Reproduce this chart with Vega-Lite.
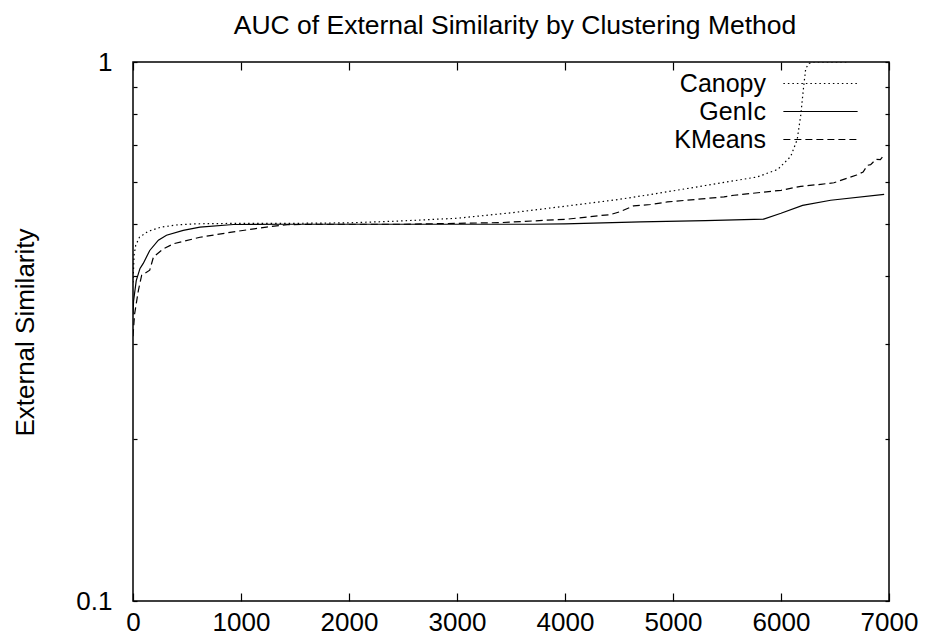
{
  "$schema": "https://vega.github.io/schema/vega-lite/v6.json",
  "width": 756,
  "height": 539,
  "autosize": {"type": "none"},
  "padding": {"left": 133, "top": 62, "right": 36, "bottom": 37},
  "background": "white",
  "title": {
    "text": "AUC of External Similarity by Clustering Method",
    "font": "Liberation Sans",
    "fontSize": 26.5,
    "fontWeight": "normal",
    "color": "black",
    "anchor": "middle",
    "frame": "group",
    "baseline": "alphabetic",
    "offset": -11,
    "dx": 4
  },
  "config": {
    "view": {"stroke": "black", "strokeWidth": 1.5},
    "axis": {
      "grid": false,
      "domain": false,
      "labelFont": "Liberation Sans",
      "labelFontSize": 26,
      "labelColor": "black",
      "tickColor": "black",
      "tickWidth": 1.2,
      "labelFlush": false,
      "labelOverlap": false,
      "titleFont": "Liberation Sans",
      "titleFontSize": 26,
      "titleFontWeight": "normal",
      "titleColor": "black"
    }
  },
  "data": {
    "values": [
      {"series": "Canopy", "x": 0, "y": 0.39},
      {"series": "Canopy", "x": 10, "y": 0.438},
      {"series": "Canopy", "x": 25, "y": 0.457},
      {"series": "Canopy", "x": 60, "y": 0.473},
      {"series": "Canopy", "x": 140, "y": 0.485},
      {"series": "Canopy", "x": 260, "y": 0.494},
      {"series": "Canopy", "x": 420, "y": 0.499},
      {"series": "Canopy", "x": 600, "y": 0.501},
      {"series": "Canopy", "x": 1000, "y": 0.502},
      {"series": "Canopy", "x": 1500, "y": 0.502},
      {"series": "Canopy", "x": 2000, "y": 0.503},
      {"series": "Canopy", "x": 2475, "y": 0.507},
      {"series": "Canopy", "x": 3000, "y": 0.513},
      {"series": "Canopy", "x": 3500, "y": 0.525},
      {"series": "Canopy", "x": 4000, "y": 0.54},
      {"series": "Canopy", "x": 4500, "y": 0.556},
      {"series": "Canopy", "x": 4800, "y": 0.568},
      {"series": "Canopy", "x": 5300, "y": 0.59},
      {"series": "Canopy", "x": 5780, "y": 0.612},
      {"series": "Canopy", "x": 5970, "y": 0.632},
      {"series": "Canopy", "x": 6090, "y": 0.668},
      {"series": "Canopy", "x": 6150, "y": 0.718},
      {"series": "Canopy", "x": 6183, "y": 0.797},
      {"series": "Canopy", "x": 6208, "y": 0.894},
      {"series": "Canopy", "x": 6229, "y": 0.973},
      {"series": "Canopy", "x": 6260, "y": 0.994},
      {"series": "Canopy", "x": 6300, "y": 1.0},
      {"series": "Canopy", "x": 6620, "y": 1.0},
      {"series": "GenIc", "x": 0, "y": 0.34},
      {"series": "GenIc", "x": 5, "y": 0.36},
      {"series": "GenIc", "x": 30, "y": 0.393},
      {"series": "GenIc", "x": 65, "y": 0.414},
      {"series": "GenIc", "x": 95, "y": 0.423},
      {"series": "GenIc", "x": 155, "y": 0.447},
      {"series": "GenIc", "x": 235, "y": 0.467},
      {"series": "GenIc", "x": 310, "y": 0.477},
      {"series": "GenIc", "x": 465, "y": 0.487},
      {"series": "GenIc", "x": 620, "y": 0.494},
      {"series": "GenIc", "x": 930, "y": 0.4995},
      {"series": "GenIc", "x": 1400, "y": 0.5},
      {"series": "GenIc", "x": 2000, "y": 0.5},
      {"series": "GenIc", "x": 3000, "y": 0.5},
      {"series": "GenIc", "x": 3700, "y": 0.5},
      {"series": "GenIc", "x": 4000, "y": 0.501},
      {"series": "GenIc", "x": 4700, "y": 0.505},
      {"series": "GenIc", "x": 5300, "y": 0.508},
      {"series": "GenIc", "x": 5840, "y": 0.511},
      {"series": "GenIc", "x": 6000, "y": 0.524},
      {"series": "GenIc", "x": 6200, "y": 0.542},
      {"series": "GenIc", "x": 6460, "y": 0.554},
      {"series": "GenIc", "x": 6955, "y": 0.568},
      {"series": "KMeans", "x": 0, "y": 0.31},
      {"series": "KMeans", "x": 15, "y": 0.341},
      {"series": "KMeans", "x": 50, "y": 0.377},
      {"series": "KMeans", "x": 80, "y": 0.402},
      {"series": "KMeans", "x": 155, "y": 0.411},
      {"series": "KMeans", "x": 190, "y": 0.435},
      {"series": "KMeans", "x": 280, "y": 0.45},
      {"series": "KMeans", "x": 375, "y": 0.46},
      {"series": "KMeans", "x": 620, "y": 0.473},
      {"series": "KMeans", "x": 930, "y": 0.484},
      {"series": "KMeans", "x": 1235, "y": 0.494},
      {"series": "KMeans", "x": 1430, "y": 0.499},
      {"series": "KMeans", "x": 1700, "y": 0.5},
      {"series": "KMeans", "x": 2500, "y": 0.5},
      {"series": "KMeans", "x": 3400, "y": 0.5035},
      {"series": "KMeans", "x": 4020, "y": 0.511},
      {"series": "KMeans", "x": 4330, "y": 0.519},
      {"series": "KMeans", "x": 4420, "y": 0.521},
      {"series": "KMeans", "x": 4515, "y": 0.528},
      {"series": "KMeans", "x": 4636, "y": 0.541},
      {"series": "KMeans", "x": 4793, "y": 0.544},
      {"series": "KMeans", "x": 4948, "y": 0.55},
      {"series": "KMeans", "x": 5472, "y": 0.562},
      {"series": "KMeans", "x": 5565, "y": 0.566},
      {"series": "KMeans", "x": 6000, "y": 0.578},
      {"series": "KMeans", "x": 6183, "y": 0.588},
      {"series": "KMeans", "x": 6368, "y": 0.593},
      {"series": "KMeans", "x": 6490, "y": 0.597},
      {"series": "KMeans", "x": 6700, "y": 0.617},
      {"series": "KMeans", "x": 6760, "y": 0.625},
      {"series": "KMeans", "x": 6800, "y": 0.643},
      {"series": "KMeans", "x": 6830, "y": 0.645},
      {"series": "KMeans", "x": 6880, "y": 0.66},
      {"series": "KMeans", "x": 6920, "y": 0.659},
      {"series": "KMeans", "x": 6955, "y": 0.672}
    ]
  },
  "layer": [
    {
      "mark": {"type": "line", "color": "black", "strokeWidth": 1.2, "clip": true},
      "encoding": {
        "x": {
          "field": "x", "type": "quantitative",
          "scale": {"domain": [0, 7000], "nice": false, "zero": false},
          "axis": {
            "orient": "bottom", "title": null, "format": "d",
            "values": [0, 1000, 2000, 3000, 4000, 5000, 6000, 7000],
            "tickSize": -8, "labelPadding": 16
          }
        },
        "y": {
          "field": "y", "type": "quantitative",
          "scale": {"type": "log", "domain": [0.1, 1], "nice": false},
          "axis": {
            "orient": "left",
            "title": "External Similarity",
            "titleX": -100, "titleY": 270, "titleAngle": -90,
            "titleAlign": "center", "titleBaseline": "alphabetic",
            "values": [0.1, 0.2, 0.3, 0.4, 0.5, 0.6, 0.7, 0.8, 0.9, 1],
            "labelExpr": "datum.value == 1 ? '1' : (datum.value == 0.1 ? '0.1' : '')",
            "tickSize": -4, "labelPadding": 25, "labelBaseline": "middle"
          }
        },
        "strokeDash": {
          "field": "series", "type": "nominal",
          "scale": {"domain": ["Canopy", "GenIc", "KMeans"], "range": [[1.5, 3], [], [7, 4]]},
          "legend": {
            "title": null,
            "orient": "none",
            "legendX": 675, "legendY": 9,
            "direction": "vertical",
            "symbolType": "M-4.95,0H4.95",
            "symbolSize": 225,
            "symbolStrokeWidth": 1.2,
            "symbolStrokeColor": "black",
            "symbolFillColor": "transparent",
            "labelFont": "Liberation Sans",
            "labelFontSize": 25,
            "labelColor": "black",
            "labelAlign": "right",
            "labelOffset": -67,
            "labelLimit": 0,
            "rowPadding": 2,
            "padding": 0
          }
        }
      }
    },
    {
      "mark": {"type": "line", "opacity": 0},
      "encoding": {
        "x": {
          "field": "x", "type": "quantitative",
          "axis": {
            "orient": "top", "title": null, "labels": false,
            "values": [0, 1000, 2000, 3000, 4000, 5000, 6000, 7000],
            "tickSize": -8
          }
        },
        "y": {
          "field": "y", "type": "quantitative",
          "axis": {
            "orient": "right", "title": null, "labels": false,
            "values": [0.1, 0.2, 0.3, 0.4, 0.5, 0.6, 0.7, 0.8, 0.9, 1],
            "tickSize": -4
          }
        },
        "detail": {"field": "series", "type": "nominal"}
      }
    }
  ],
  "resolve": {"axis": {"x": "independent", "y": "independent"}}
}
